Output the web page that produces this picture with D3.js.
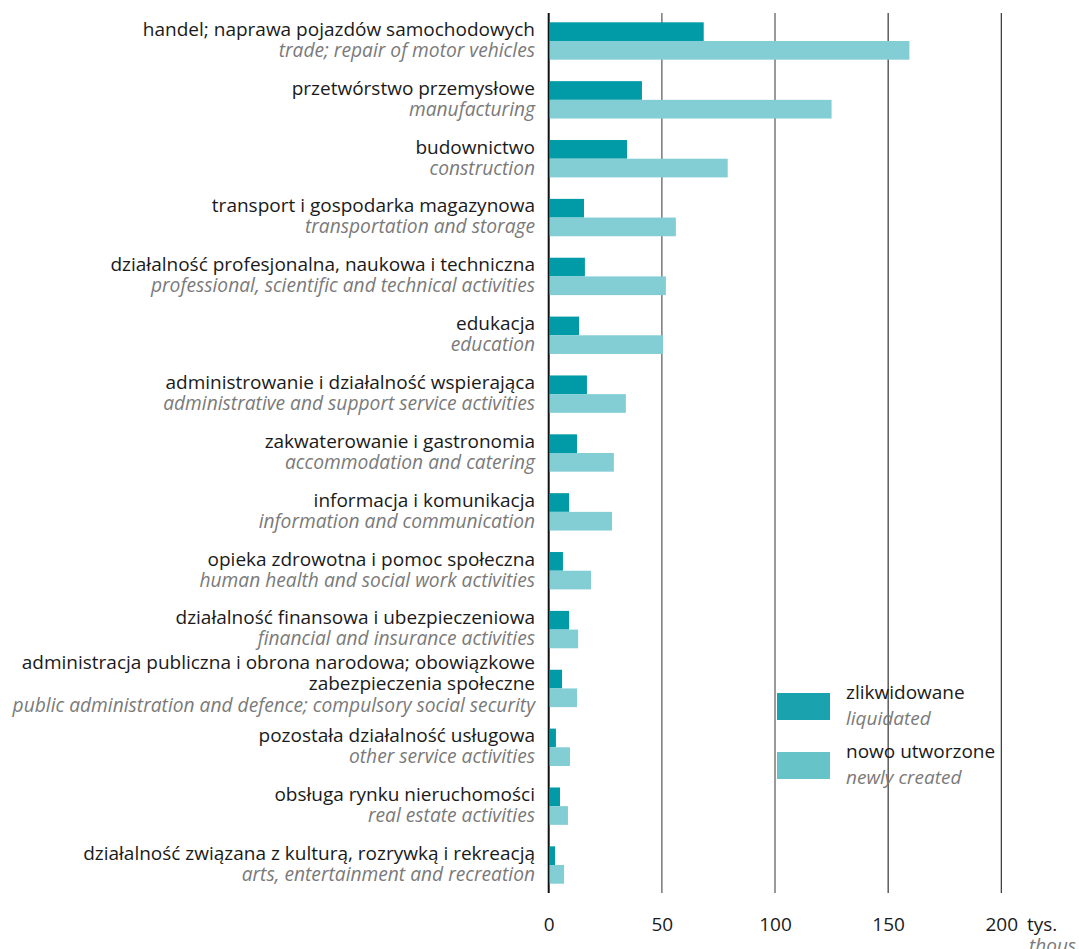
<!DOCTYPE html>
<html>
<head>
<meta charset="utf-8">
<script src="https://cdn.jsdelivr.net/npm/d3@7"></script>
<style>
  body { margin: 0; background: #fff; }
  svg { display: block; font-family: "Open Sans", sans-serif; }
</style>
</head>
<body>
<div id="chart"></div>
<script>
// categories (Polish label, may wrap with \n) and English label
var labelsPl = [
  "handel; naprawa pojazdów samochodowych",
  "przetwórstwo przemysłowe",
  "budownictwo",
  "transport i gospodarka magazynowa",
  "działalność profesjonalna, naukowa i techniczna",
  "edukacja",
  "administrowanie i działalność wspierająca",
  "zakwaterowanie i gastronomia",
  "informacja i komunikacja",
  "opieka zdrowotna i pomoc społeczna",
  "działalność finansowa i ubezpieczeniowa",
  "administracja publiczna i obrona narodowa; obowiązkowe\nzabezpieczenia społeczne",
  "pozostała działalność usługowa",
  "obsługa rynku nieruchomości",
  "działalność związana z kulturą, rozrywką i rekreacją"
];
var labelsEn = [
  "trade; repair of motor vehicles",
  "manufacturing",
  "construction",
  "transportation and storage",
  "professional, scientific and technical activities",
  "education",
  "administrative and support service activities",
  "accommodation and catering",
  "information and communication",
  "human health and social work activities",
  "financial and insurance activities",
  "public administration and defence; compulsory social security",
  "other service activities",
  "real estate activities",
  "arts, entertainment and recreation"
];
// thousands of enterprises
var liquidated = [68.5, 41.2, 34.6, 15.6, 16.0, 13.4, 16.9, 12.5, 9.0, 6.3, 9.0, 5.9, 3.2, 5.0, 2.8];
var created = [159.4, 125.0, 79.1, 56.2, 51.8, 50.5, 34.1, 28.8, 28.0, 18.7, 13.0, 12.5, 9.4, 8.5, 6.8];
var ticks = [0, 50, 100, 150, 200];
var seriesKeys = ["liquidated", "created"];
var legendPl = ["zlikwidowane", "nowo utworzone"];
var legendEn = ["liquidated", "newly created"];

var width = 1079, height = 949;
var barColors = { liquidated: "#009ba7", created: "#82ced4" };
var legendColors = { liquidated: "#1aa3ae", created: "#66c4c9" };

var data = labelsPl.map(function (d, i) {
  return { pl: d, en: labelsEn[i], liquidated: liquidated[i], created: created[i] };
});

var svg = d3.select("#chart").append("svg")
  .attr("width", width)
  .attr("height", height);

var x = d3.scaleLinear().domain([0, 200]).range([548.7, 1001.3]);
var y = d3.scaleBand()
  .domain(d3.range(data.length))
  .range([13, 893])
  .paddingInner(0.365)
  .paddingOuter(0.158);
var ySub = d3.scaleBand().domain(seriesKeys).range([0, y.bandwidth()]);

// grid lines
var gridColor = { 0: "#111", 50: "#808080", 100: "#808080", 150: "#222", 200: "#222" };
var gridWidth = { 0: 2, 50: 1.6, 100: 1.6, 150: 1.1, 200: 1.1 };
svg.append("g").selectAll("line")
  .data(ticks)
  .enter().append("line")
  .attr("x1", function (d) { return x(d); })
  .attr("x2", function (d) { return x(d); })
  .attr("y1", 13)
  .attr("y2", 893)
  .attr("stroke", function (d) { return gridColor[d]; })
  .attr("stroke-width", function (d) { return gridWidth[d]; });

// bars
var groups = svg.append("g").selectAll("g")
  .data(data)
  .enter().append("g")
  .attr("transform", function (d, i) { return "translate(0," + y(i) + ")"; });

groups.selectAll("rect")
  .data(function (d) { return seriesKeys.map(function (k) { return { key: k, value: d[k] }; }); })
  .enter().append("rect")
  .attr("x", x(0) + 1)
  .attr("y", function (d) { return ySub(d.key); })
  .attr("width", function (d) { return x(d.value) - x(0) - 1; })
  .attr("height", ySub.bandwidth())
  .attr("fill", function (d) { return barColors[d.key]; });

// category labels
var labelX = 535;
groups.each(function (d) {
  var g = d3.select(this);
  var plLines = d.pl.split("\n");
  var first = 13.5 - (plLines.length - 1) * 14.5;
  var step = plLines.length > 1 ? 21.5 : 21;
  plLines.forEach(function (line, j) {
    g.append("text")
      .attr("x", labelX)
      .attr("y", first + j * step)
      .attr("text-anchor", "end")
      .attr("font-size", 19)
      .attr("fill", "#1a1a1a")
      .text(line);
  });
  g.append("text")
    .attr("x", labelX)
    .attr("y", first + plLines.length * step)
    .attr("text-anchor", "end")
    .attr("font-size", 19.2)
    .attr("font-style", "italic")
    .attr("fill", "#7a7a7a")
    .text(d.en);
});

// x axis
var xAxis = svg.append("g")
  .attr("transform", "translate(0,931)")
  .call(d3.axisBottom(x).tickValues(ticks).tickSize(0).tickPadding(0));
xAxis.select(".domain").remove();
xAxis.selectAll("text")
  .attr("dy", 0)
  .attr("font-size", 19)
  .attr("font-family", "Open Sans, sans-serif")
  .attr("fill", "#1a1a1a");

svg.append("text")
  .attr("x", 1027)
  .attr("y", 931)
  .attr("font-size", 19)
  .attr("fill", "#1a1a1a")
  .text("tys.");
svg.append("text")
  .attr("x", 1029)
  .attr("y", 952)
  .attr("font-size", 19)
  .attr("font-style", "italic")
  .attr("fill", "#7a7a7a")
  .text("thous.");

// legend
var legend = svg.append("g").selectAll("g")
  .data(seriesKeys)
  .enter().append("g")
  .attr("transform", function (d, i) { return "translate(777," + (693 + i * 59) + ")"; });
legend.append("rect")
  .attr("width", 53)
  .attr("height", 27)
  .attr("fill", function (d) { return legendColors[d]; });
legend.append("text")
  .attr("x", 69)
  .attr("y", 6)
  .attr("font-size", 19)
  .attr("fill", "#1a1a1a")
  .text(function (d, i) { return legendPl[i]; });
legend.append("text")
  .attr("x", 69)
  .attr("y", 32)
  .attr("font-size", 19)
  .attr("font-style", "italic")
  .attr("fill", "#7a7a7a")
  .text(function (d, i) { return legendEn[i]; });
</script>
</body>
</html>
